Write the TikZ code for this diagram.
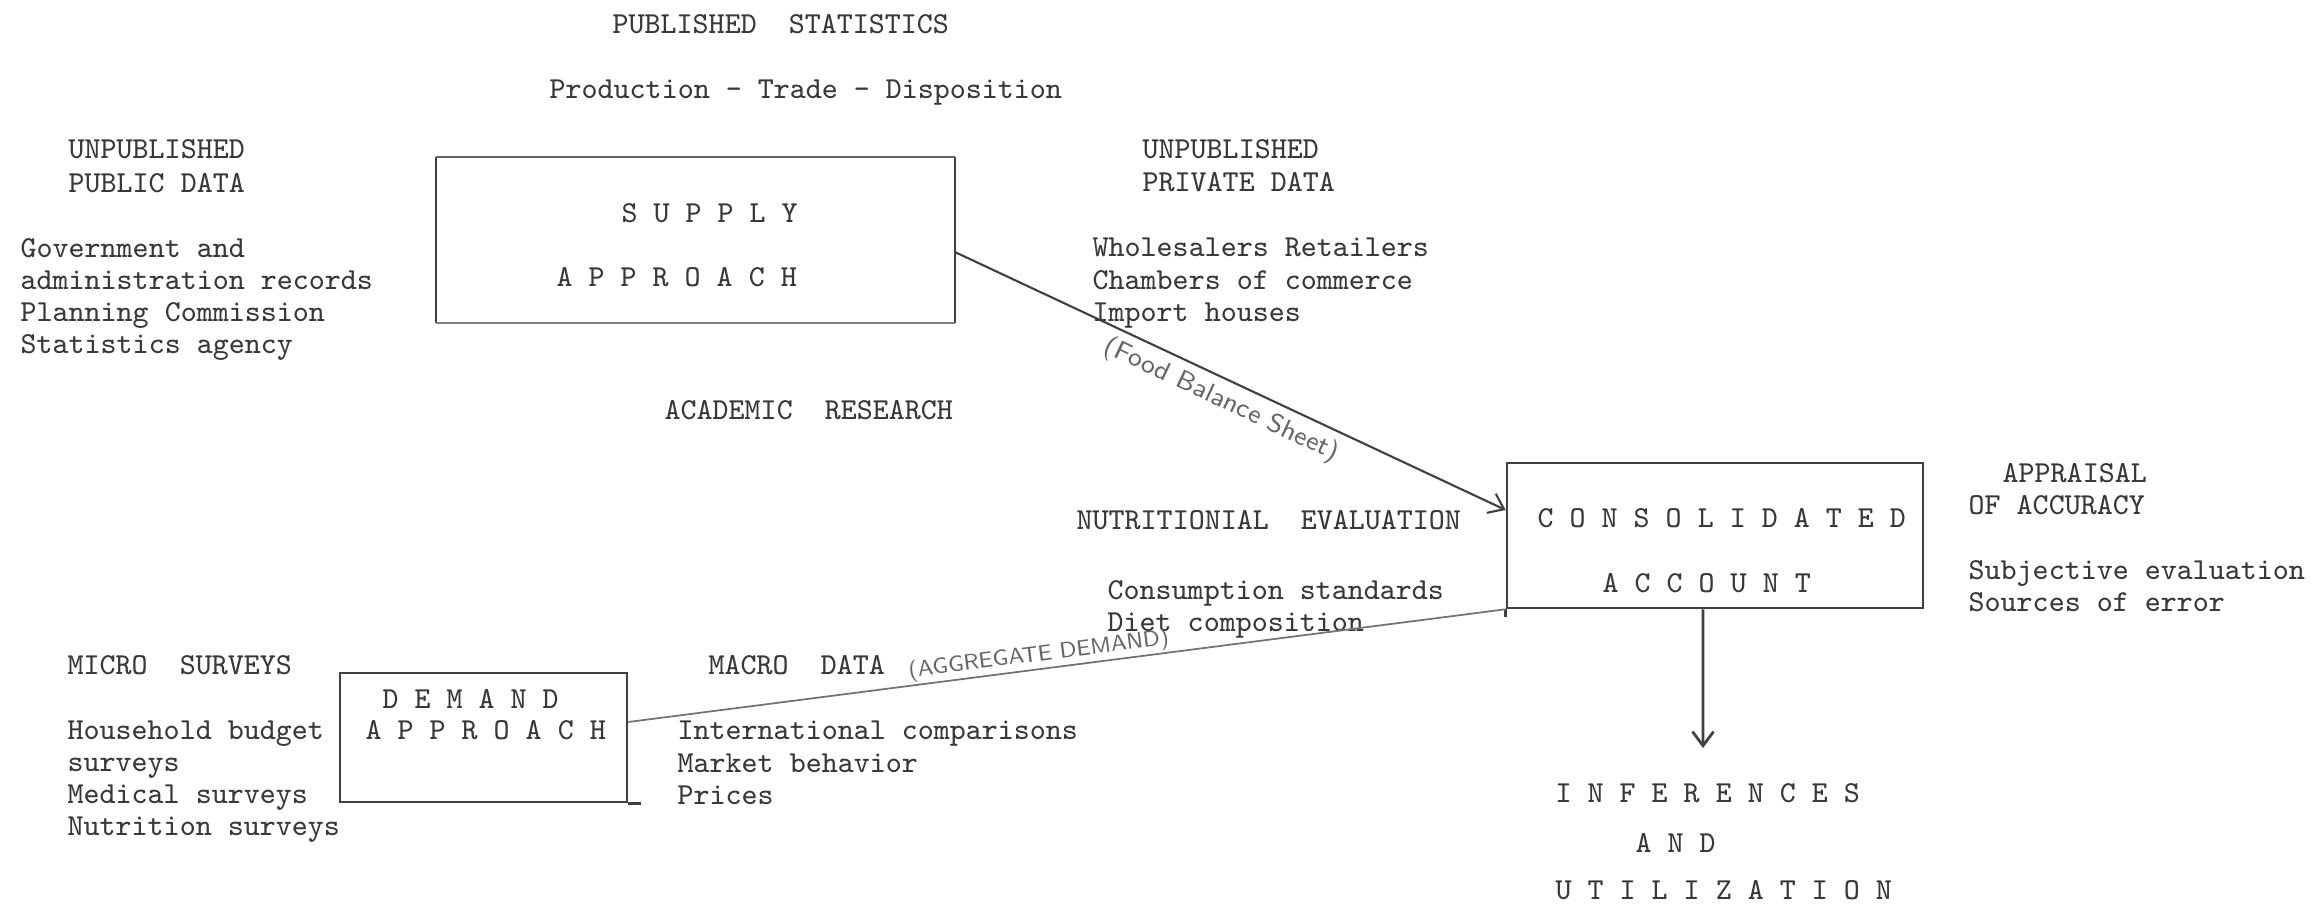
\documentclass[tikz,border=0pt]{standalone}
\usetikzlibrary{arrows.meta}
\begin{document}
\begin{tikzpicture}[x=0.01cm,y=-0.01cm,
  tw/.style={font=\fontsize{8.67}{9}\selectfont\ttfamily, text=black!78, inner sep=0pt, anchor=base west},
  hand/.style={font=\fontsize{7.5}{8}\selectfont\sffamily, text=black!60},
  boxx/.style={draw=black!75, line width=0.7pt, inner sep=0pt},
  faintbox/.style={draw=none, inner sep=0pt},
  conn/.style={draw=black!75, line width=0.6pt},
  pencil/.style={draw=black!55, line width=0.5pt},
  tip/.style={-{Straight Barb[length=4pt,width=6pt]}}
]
\useasboundingbox (0,0) rectangle (2323,906);

% top
\node[tw] (pubstat) at (612,34) {PUBLISHED\ \ STATISTICS};
\node[tw] (prod) at (549,98) {Production - Trade - Disposition};

% left top
\node[tw] (unpub1) at (68,158) {UNPUBLISHED};
\node[tw] (pubdata) at (68,192) {PUBLIC DATA};
\node[tw] (gov1) at (20,257) {Government and};
\node[tw] (gov2) at (20,289) {administration records};
\node[tw] (gov3) at (20,321) {Planning Commission};
\node[tw] (gov4) at (20,353) {Statistics agency};

% supply box (typed edges: darker sides, lighter top and bottom)
\node[faintbox, minimum width=5.17cm, minimum height=1.64cm] (supply) at (695.5,240) {};
\draw[draw=black!75, line width=0.7pt] (supply.north west) -- (supply.south west);
\draw[draw=black!75, line width=0.7pt] (supply.north east) -- (supply.south east);
\draw[draw=black!62, line width=0.6pt] (supply.north west) -- (supply.north east);
\draw[draw=black!50, line width=0.55pt] (supply.south west) -- (supply.south east);
\node[tw] (sup1) at (621,222) {S U P P L Y};
\node[tw] (sup2) at (556,286) {A P P R O A C H};

% right top
\node[tw] (unpub2) at (1142,158) {UNPUBLISHED};
\node[tw] (privdata) at (1142,191) {PRIVATE DATA};
\node[tw] (priv1) at (1092,256) {Wholesalers Retailers};
\node[tw] (priv2) at (1092,289) {Chambers of commerce};
\node[tw] (priv3) at (1092,321) {Import houses};

% academic
\node[tw] (acad) at (664,419) {ACADEMIC\ \ RESEARCH};

% nutrition
\node[tw] (nutr) at (1076,529) {NUTRITIONIAL\ \ EVALUATION};
\node[tw] (cstd1) at (1107,599) {Consumption standards};
\node[tw] (cstd2) at (1107,631) {Diet composition};

% consolidated box
\node[boxx, minimum width=4.16cm, minimum height=1.45cm] (cons) at (1715,535.5) {};
\draw[boxx] (cons.south west) -- ++(0,8);
\node[tw] (con1) at (1537,527) {C O N S O L I D A T E D};
\node[tw] (con2) at (1602,592) {A C C O U N T};

% appraisal
\node[tw] (appr1) at (2002,482) {APPRAISAL};
\node[tw] (appr2) at (1968,514) {OF ACCURACY};
\node[tw] (appr3) at (1968,579) {Subjective evaluation};
\node[tw] (appr4) at (1968,611) {Sources of error};

% inferences
\node[tw] (inf1) at (1555,802) {I N F E R E N C E S};
\node[tw] (inf2) at (1635,852) {A N D};
\node[tw] (inf3) at (1555,899) {U T I L I Z A T I O N};

% micro
\node[tw] (micro) at (67,674) {MICRO\ \ SURVEYS};
\node[tw] (mic1) at (67,739) {Household budget};
\node[tw] (mic2) at (67,771) {surveys};
\node[tw] (mic3) at (67,803) {Medical surveys};
\node[tw] (mic4) at (67,835) {Nutrition surveys};

% demand box
\node[boxx, minimum width=2.87cm, minimum height=1.29cm] (demand) at (483.5,737.5) {};
\draw[boxx] (demand.south east) -- ++(13,0);
\node[tw] (dem1) at (382,708) {D E M A N D};
\node[tw] (dem2) at (365,739) {A P P R O A C H};

% macro
\node[tw] (macro) at (708,674) {MACRO\ \ DATA};
\node[tw] (mac1) at (677,739) {International comparisons};
\node[tw] (mac2) at (677,772) {Market behavior};
\node[tw] (mac3) at (677,804) {Prices};

% connectors
\draw[conn, tip] ([yshift=-0.12cm]supply.east) --
  node[hand, midway, sloped, below, inner sep=2pt] (foodlab) {(Food Balance Sheet)}
  ([yshift=0.255cm]cons.west);
\draw[pencil] ([yshift=0.155cm]demand.east) --
  node[hand, pos=0.47, sloped, above, inner sep=0.5pt, font=\fontsize{6.3}{7}\selectfont\sffamily] (aggr) {(AGGREGATE DEMAND)}
  (cons.south west);
\coordinate (infertop) at (1703,748);
\draw[conn, line width=0.8pt, tip] ([xshift=-0.12cm]cons.south) -- (infertop);
\end{tikzpicture}
\end{document}
